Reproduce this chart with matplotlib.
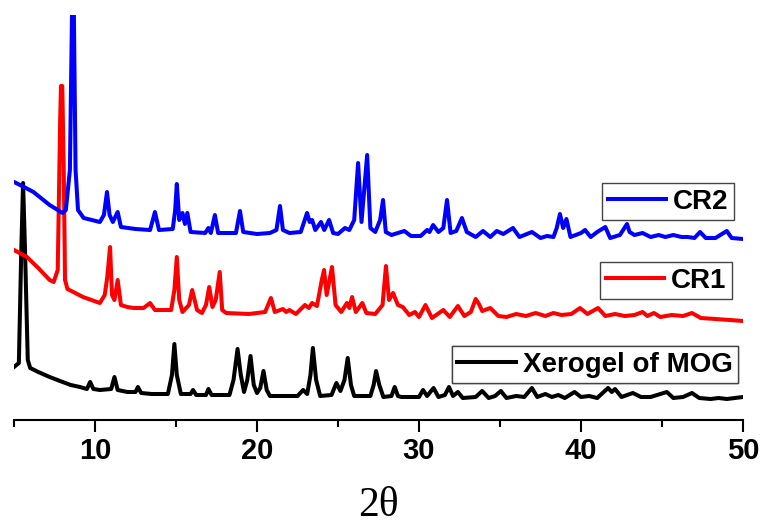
import matplotlib.pyplot as plt
from matplotlib.ticker import MultipleLocator

# Xerogel of MOG (black)
x_mog = [5.0, 5.3, 5.45, 5.56, 5.68, 5.85, 6.0, 6.5, 7.2, 7.84, 8.5, 9.07, 9.5, 9.7, 9.9,
         10.3, 11.0, 11.2, 11.4, 12.0, 12.5, 12.65, 12.85, 13.5, 14.5, 14.75, 14.9, 15.05,
         15.3, 15.9, 16.05, 16.25, 16.85, 17.0, 17.2, 18.3, 18.55, 18.8, 19.0, 19.2, 19.4,
         19.6, 19.8, 20.0, 20.2, 20.4, 20.6, 20.8, 22.5, 22.85, 23.1, 23.3, 23.45, 23.65,
         23.9, 24.6, 24.9, 25.15, 25.4, 25.6, 25.8, 26.0, 27.0, 27.2, 27.35, 27.55, 27.8,
         28.3, 28.5, 28.7, 28.9, 30.0, 30.25, 30.5, 30.9, 31.2, 31.6, 31.85, 32.1, 32.4,
         32.7, 33.5, 33.9, 34.3, 34.7, 35.05, 35.4, 36.0, 36.5, 36.97, 37.3, 37.8, 38.2,
         38.6, 39.0, 39.6, 40.0, 40.5, 41.0, 41.67, 41.9, 42.1, 42.5, 43.2, 43.7, 44.3,
         45.3, 45.7, 46.3, 46.85, 47.3, 48.0, 48.5, 49.0, 49.5, 50.0]
y_mog = [53, 57, 170, 237, 170, 60, 52, 48, 43, 39, 35, 33, 31, 38, 31,
         30, 31, 43, 30, 28, 28, 33, 27, 26, 26, 45, 76, 45,
         26, 26, 30, 25, 25, 31, 25, 25, 40, 71, 45, 28, 40,
         64, 35, 27, 32, 49, 30, 24, 24, 30, 26, 45, 72, 40,
         24, 25, 37, 29, 40, 62, 35, 24, 24, 35, 49, 35, 23,
         24, 33, 24, 23, 23, 30, 24, 32, 23, 25, 33, 24, 28,
         22, 23, 29, 22, 24, 29, 22, 24, 23, 32, 23, 26, 23,
         25, 22, 28, 23, 24, 22, 32, 28, 31, 23, 27, 23, 23,
         28, 22, 23, 27, 22, 21, 22, 21, 22, 23]

# CR1 (red)
x_cr1 = [5.0, 5.8, 6.5, 7.2, 7.45, 7.7, 7.85, 7.9, 7.98, 8.07, 8.15, 8.3, 9.26, 10.3, 10.6,
         10.75, 10.93, 11.05, 11.2, 11.4, 11.6, 12.0, 12.4, 13.0, 13.4, 13.7, 14.7, 14.9,
         15.05, 15.2, 15.4, 15.8, 16.0, 16.3, 16.6, 16.85, 17.05, 17.25, 17.45, 17.7, 17.85,
         18.1, 19.5, 20.5, 20.86, 21.1, 21.6, 21.8, 22.0, 22.4, 22.96, 23.2, 23.4, 23.7,
         24.0, 24.14, 24.3, 24.63, 24.85, 25.2, 25.55, 25.7, 25.87, 26.1, 26.5, 26.75,
         27.3, 27.75, 27.96, 28.15, 28.4, 28.7, 29.0, 29.4, 29.75, 30.0, 30.4, 30.8, 31.5,
         31.9, 32.4, 32.8, 33.2, 33.5, 33.7, 33.9, 34.4, 34.9, 35.4, 36.0, 36.6, 37.2, 37.8,
         38.3, 38.8, 39.4, 39.94, 40.4, 41.05, 41.5, 42.1, 42.7, 43.3, 43.8, 44.1, 44.5,
         44.9, 45.6, 46.3, 46.85, 47.4, 48.3, 49.2, 50.0]
y_cr1 = [170, 163, 152, 140, 138, 150, 300, 334, 334, 250, 140, 131, 123, 117, 125,
         142, 173, 125, 120, 140, 115, 113, 112, 112, 117, 110, 110, 130,
         163, 120, 108, 115, 130, 110, 107, 115, 133, 113, 120, 148, 110,
         107, 106, 108, 122, 108, 111, 108, 110, 106, 115, 112, 117, 114,
         140, 150, 125, 153, 115, 108, 117, 112, 123, 108, 117, 107,
         106, 115, 154, 120, 127, 115, 113, 105, 108, 103, 115, 102, 110,
         103, 114, 104, 108, 121, 116, 109, 112, 104, 103, 106, 104, 107, 104,
         107, 105, 106, 112, 106, 112, 104, 106, 104, 105, 108, 104, 107,
         103, 105, 104, 107, 102, 101, 100, 99]

# CR2 (blue)
x_cr2 = [5.0, 5.5, 6.2, 7.2, 7.7, 8.0, 8.2, 8.45, 8.6, 8.68, 8.8, 8.95, 9.3, 10.3, 10.55,
         10.74, 10.9, 11.1, 11.4, 11.6, 12.5, 13.4, 13.7, 13.95, 14.8, 14.95, 15.05, 15.2,
         15.4, 15.55, 15.7, 15.9, 16.8, 17.0, 17.15, 17.4, 17.6, 18.7, 18.95, 19.15, 20.0,
         20.8, 21.2, 21.42, 21.6, 22.0, 22.7, 23.09, 23.25, 23.4, 23.6, 23.95, 24.15, 24.45,
         24.7, 25.0, 25.43, 25.7, 26.0, 26.24, 26.45, 26.8, 27.0, 27.3, 27.6, 27.78, 27.95,
         28.3, 29.1, 29.5, 30.1, 30.5, 30.65, 30.87, 31.2, 31.5, 31.73, 31.95, 32.3, 32.65,
         32.95, 33.5, 33.95, 34.4, 34.8, 35.2, 35.8, 36.2, 36.97, 37.5, 37.9, 38.3, 38.5,
         38.7, 38.9, 39.1, 39.35, 40.0, 40.25, 40.6, 41.0, 41.5, 41.8, 42.4, 42.84, 43.0,
         43.3, 43.8, 44.3, 44.8, 45.2, 45.7, 46.2, 46.6, 47.0, 47.35, 47.7, 48.3, 49.0,
         49.3, 50.0]
y_cr2 = [238, 234, 228, 215, 210, 207, 210, 250, 430, 430, 250, 210, 202, 198, 205,
         228, 205, 198, 208, 193, 191, 190, 208, 190, 191, 210, 236, 200,
         207, 196, 207, 188, 187, 192, 187, 205, 187, 187, 209, 188, 186,
         187, 190, 214, 190, 187, 188, 207, 198, 200, 190, 198, 190, 200,
         187, 186, 192, 190, 200, 257, 198, 265, 192, 188, 200, 220, 188,
         185, 189, 184, 184, 190, 188, 195, 188, 192, 220, 187, 189, 202,
         188, 183, 189, 183, 189, 186, 192, 183, 188, 182, 184, 183, 192,
         206, 192, 201, 183, 187, 190, 183, 188, 193, 182, 185, 196, 188,
         185, 187, 183, 185, 183, 185, 183, 183, 182, 188, 182, 182, 189,
         182, 181]

labels = ['Xerogel of MOG', 'CR1', 'CR2']
colors = ['black', 'red', 'blue']

fig = plt.figure(figsize=(7.64, 5.31), dpi=100)
ax = fig.add_axes([14 / 764, 111 / 531, 729 / 764, 405 / 531])

l_mog, = ax.plot(x_mog, y_mog, color=colors[0], lw=2.9)
l_cr1, = ax.plot(x_cr1, y_cr1, color=colors[1], lw=2.9)
l_cr2, = ax.plot(x_cr2, y_cr2, color=colors[2], lw=2.9)

ax.set_xlim(5, 50)
ax.set_ylim(0, 405)

for s in ['left', 'top', 'right']:
    ax.spines[s].set_visible(False)
ax.spines['bottom'].set_linewidth(1.5)
ax.set_yticks([])
ax.xaxis.set_major_locator(MultipleLocator(10))
ax.xaxis.set_minor_locator(MultipleLocator(5))
ax.tick_params(axis='x', which='major', length=8.5, width=1.5, pad=4)
ax.tick_params(axis='x', which='minor', length=5, width=1.5)
for t in ax.get_xticklabels():
    t.set_fontfamily('Liberation Sans')
    t.set_fontweight('bold')
    t.set_fontsize(21)

ax.set_xlabel('2θ', fontfamily='Liberation Serif', fontsize=30)
ax.xaxis.set_label_coords(0.5, -0.165)

# separate legend boxes, one per trace
leg_font = {'family': 'Liberation Sans', 'weight': 'bold', 'size': 20}
legend_spots = [(l_cr2, labels[2], 734, 183), (l_cr1, labels[1], 732, 262),
                (l_mog, labels[0], 738, 346)]
for line, lab, rx, ty in legend_spots:
    leg = ax.legend([line], [lab], loc='upper right',
                    bbox_to_anchor=(rx / 764, 1 - ty / 531), bbox_transform=fig.transFigure,
                    frameon=True, fancybox=False, framealpha=1, edgecolor='#444444',
                    handlelength=2.1, handletextpad=0.25, borderpad=0.2, borderaxespad=0,
                    prop=leg_font)
    leg.get_frame().set_linewidth(1.0)
    ax.add_artist(leg)

fig.savefig('out.png', dpi=100)
